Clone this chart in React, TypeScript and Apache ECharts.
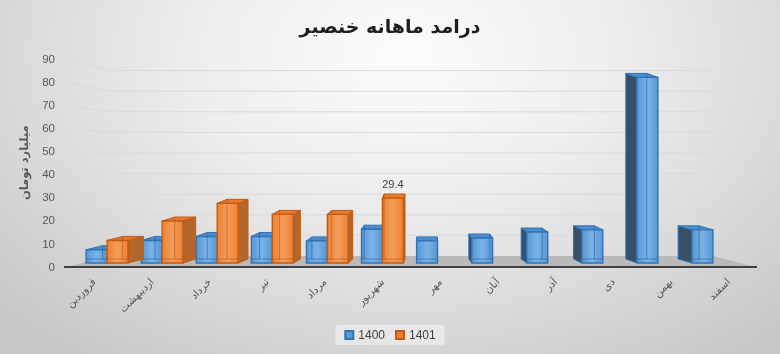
import React, { useEffect, useRef } from "react";
import * as echarts from "echarts";

// ---------- data ----------
const months = [
  "فروردین",
  "اردیبهشت",
  "خرداد",
  "تیر",
  "مرداد",
  "شهریور",
  "مهر",
  "آبان",
  "آذر",
  "دی",
  "بهمن",
  "اسفند",
];
const values1400: (number | null)[] = [6, 10.2, 12, 12, 10, 15.3, 10, 11.3, 14, 15, 84, 15];
const values1401: (number | null)[] = [10.2, 19, 27, 22, 22, 29.4, null, null, null, null, null, null];
const seriesNames = ["1400", "1401"];
const yTickValues = [10, 20, 30, 40, 50, 60, 70, 80, 90];
const labeled1401Index = 5;
const titleText = "درامد ماهانه خنصیر";
const yAxisTitle = "میلیارد تومان";

// ---------- styling constants ----------
const FONT_AR = "'DejaVu Sans', 'Noto Sans', sans-serif";
const FONT_NUM = "'Liberation Sans', Arial, sans-serif";
const VP_X = 425;
const PERSP = 0.05;
const DEPTH_Y = -4;
const SIDE_FRONT_X = 65;
const SIDE_FRONT_Y0 = 266.7;
const SIDE_RATIO = 2.31 / 2.06;

const blue = {
  front0: "#5897d4",
  front1: "#7ab3e8",
  edge: "#2e75b6",
  top: "#4f8ccb",
  sideR: "#3f74a8",
  sideL: "#384f68",
  inner: "rgba(40,90,150,0.55)",
};
const orange = {
  front0: "#ee8133",
  front1: "#f49d5a",
  edge: "#c55a11",
  top: "#e47a2e",
  sideR: "#b5662c",
  sideL: "#8a4a1c",
  inner: "rgba(170,80,20,0.5)",
};

function make3DBar(slot: "left" | "right", pal: typeof blue, labelIndex: number | null) {
  return (params: any, api: any) => {
    const cat = api.value(0);
    const val = api.value(1);
    const base = api.coord([cat, 0]);
    const top = api.coord([cat, val]);
    const band = api.size([1, 0])[0];
    const w = band * 0.38;
    const x0 = slot === "left" ? base[0] - w : base[0];
    const x1 = x0 + w;
    const yT = top[1];
    const yB = base[1];
    const dx = -PERSP * ((x0 + x1) / 2 - VP_X);
    const dy = DEPTH_Y;
    const children: any[] = [];
    if (dx > 0.5) {
      children.push({
        type: "polygon",
        shape: { points: [[x1, yT], [x1 + dx, yT + dy], [x1 + dx, yB + dy], [x1, yB]] },
        style: { fill: pal.sideR, stroke: pal.edge, lineWidth: 1 },
      });
    } else if (dx < -0.5) {
      children.push({
        type: "polygon",
        shape: { points: [[x0, yT], [x0 + dx, yT + dy], [x0 + dx, yB + dy], [x0, yB]] },
        style: { fill: pal.sideL, stroke: pal.edge, lineWidth: 1 },
      });
    }
    children.push({
      type: "polygon",
      shape: { points: [[x0, yT], [x1, yT], [x1 + dx, yT + dy], [x0 + dx, yT + dy]] },
      style: { fill: pal.top, stroke: pal.edge, lineWidth: 1 },
    });
    children.push({
      type: "rect",
      shape: { x: x0, y: yT, width: w, height: yB - yT },
      style: {
        fill: new echarts.graphic.LinearGradient(0, 0, 1, 0, [
          { offset: 0, color: pal.front0 },
          { offset: 0.5, color: pal.front1 },
          { offset: 1, color: pal.front0 },
        ]),
        stroke: pal.edge,
        lineWidth: 1.4,
      },
    });
    // back edges seen through the translucent front
    const bx = dx < 0 ? x1 + dx : x0 + dx;
    if (Math.abs(dx) > 0.5 && bx > x0 && bx < x1) {
      children.push({
        type: "line",
        shape: { x1: bx, y1: yT + dy, x2: bx, y2: yB + dy },
        style: { stroke: pal.inner, lineWidth: 1 },
      });
    }
    children.push({
      type: "line",
      shape: { x1: x0, y1: yB + dy, x2: x1, y2: yB + dy },
      style: { stroke: pal.inner, lineWidth: 1 },
    });
    if (labelIndex !== null && params.dataIndex === labelIndex) {
      children.push({
        type: "text",
        x: (x0 + x1) / 2,
        y: yT - 14,
        style: {
          text: String(val),
          fill: "#404040",
          fontSize: 11,
          fontFamily: FONT_NUM,
          align: "center",
          verticalAlign: "middle",
        },
      });
    }
    return { type: "group", children };
  };
}

function toPairs(vals: (number | null)[]) {
  const out: number[][] = [];
  vals.forEach((v, i) => {
    if (v !== null) out.push([i, v]);
  });
  return out;
}

export default function App() {
  const ref = useRef<HTMLDivElement>(null);
  useEffect(() => {
    const chart = echarts.init(ref.current!, null, { renderer: "svg" });
    const pairs1401 = toPairs(values1401);
    const option: any = {
      animation: false,
      backgroundColor: "transparent",
      title: {
        text: titleText,
        left: "center",
        top: 11,
        textStyle: { fontFamily: FONT_AR, fontSize: 19, fontWeight: "bold", color: "#1f1f1f" },
      },
      legend: {
        data: seriesNames,
        bottom: 9,
        left: "center",
        icon: "rect",
        itemWidth: 8,
        itemHeight: 8,
        itemGap: 10,
        padding: [4, 9],
        backgroundColor: "rgba(245,245,245,0.55)",
        textStyle: { fontFamily: FONT_NUM, fontSize: 12, color: "#404040" },
      },
      graphic: [
        {
          type: "polygon",
          z: 0,
          shape: { points: [[64, 267.5], [757, 267.5], [714, 256], [110, 256]] },
          style: { fill: "#bababa" },
        },
        {
          type: "line",
          z: 0,
          shape: { x1: 64, y1: 267, x2: 757, y2: 267 },
          style: { stroke: "#404040", lineWidth: 2 },
        },
      ],
      grid: [
        { left: 79.5, right: 39.5, top: 263 - 90 * 2.21, bottom: 354 - 263 },
        { left: 65, right: 23, top: 58.7, bottom: 354 - 266.7 },
        { left: 110, right: 67, top: 256 - 90 * 2.06, bottom: 98 },
      ],
      xAxis: [
        { gridIndex: 0, type: "category", data: months, show: false },
        {
          gridIndex: 1,
          type: "category",
          data: months,
          axisLine: { show: false },
          axisTick: { show: false },
          axisLabel: {
            interval: 0,
            rotate: 45,
            margin: 13,
            fontFamily: FONT_AR,
            fontSize: 10.5,
            color: "#595959",
          },
        },
        { gridIndex: 2, type: "value", min: 0, max: 1, show: false },
      ],
      yAxis: [
        { gridIndex: 0, type: "value", min: 0, max: 90, show: false },
        {
          gridIndex: 1,
          type: "value",
          min: 0,
          max: 90,
          interval: 10,
          axisLine: { show: false },
          axisTick: { show: false },
          splitLine: { show: false },
          axisLabel: { margin: 10, fontFamily: FONT_NUM, fontSize: 11.5, color: "#595959" },
          name: yAxisTitle,
          nameLocation: "middle",
          nameGap: 35,
          nameRotate: 90,
          nameTextStyle: { fontFamily: FONT_AR, fontSize: 11.5, fontWeight: "bold", color: "#595959" },
        },
        { gridIndex: 2, type: "value", min: 0, max: 90, interval: 10, show: false },
      ],
      series: [
        {
          type: "custom",
          name: "grid",
          xAxisIndex: 2,
          yAxisIndex: 2,
          silent: true,
          z: 1,
          data: yTickValues.map((v) => [0, v]),
          renderItem: (params: any, api: any) => {
            const v = api.value(1);
            const bl = api.coord([0, v]);
            const br = api.coord([1, v]);
            const b0 = api.coord([0, 0]);
            const yFront = SIDE_FRONT_Y0 + (bl[1] - b0[1]) * SIDE_RATIO;
            return {
              type: "polyline",
              shape: { points: [[SIDE_FRONT_X, yFront], bl, br] },
              style: { stroke: "#dadada", lineWidth: 1, fill: null },
            };
          },
        },
        {
          type: "custom",
          name: seriesNames[0],
          xAxisIndex: 0,
          yAxisIndex: 0,
          z: 3,
          itemStyle: { color: "#5b9bd5", borderColor: "#2e75b6", borderWidth: 1 },
          data: toPairs(values1400),
          renderItem: make3DBar("left", blue, null),
        },
        {
          type: "custom",
          name: seriesNames[1],
          xAxisIndex: 0,
          yAxisIndex: 0,
          z: 4,
          itemStyle: { color: "#ed7d31", borderColor: "#c55a11", borderWidth: 1 },
          data: pairs1401,
          renderItem: make3DBar("right", orange, pairs1401.findIndex((p) => p[0] === labeled1401Index)),
        },
      ],
    };
    chart.setOption(option);
    return () => chart.dispose();
  }, []);
  return (
    <div
      style={{
        position: "fixed",
        left: 0,
        top: 0,
        width: 780,
        height: 354,
        background:
          "radial-gradient(ellipse 70% 105% at 52% 15%, #fcfcfc 0%, #eeeeee 38%, #d6d6d6 78%, #c8c8c8 100%)",
      }}
    >
      <div ref={ref} style={{ width: 780, height: 354 }} />
    </div>
  );
}
